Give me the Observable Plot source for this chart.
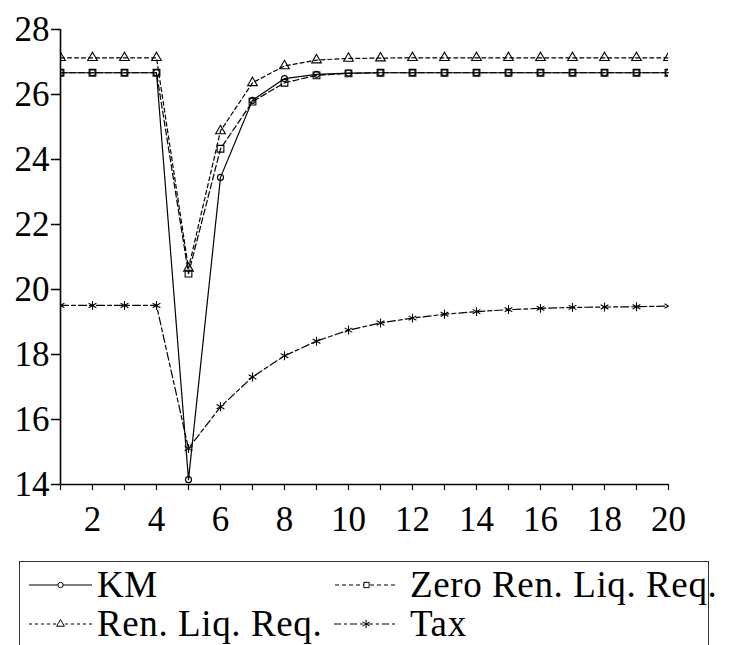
<!DOCTYPE html>
<html><head><meta charset="utf-8">
<script src="https://cdn.jsdelivr.net/npm/d3@7"></script>
<script src="https://cdn.jsdelivr.net/npm/@observablehq/plot@0.6"></script>
<style>
body{margin:0;background:#fff}
#chart{position:relative;width:730px;height:645px;overflow:hidden;background:#fff}
#chart > svg{display:block}
#legend{position:absolute;left:0;top:0;width:730px;height:645px;pointer-events:none}
#legend .box{position:absolute;left:19px;top:561px;width:690px;height:120px;border:1.4px solid #333;box-sizing:border-box}
#legend .lab{position:absolute;font-size:37px;line-height:38px;letter-spacing:0.6px;white-space:nowrap;color:#000}
#legend svg{position:absolute;overflow:visible}
</style>
</head><body><div id="chart"></div>
<script>
const periods = [1,2,3,4,5,6,7,8,9,10,11,12,13,14,15,16,17,18,19,20];
const xTickLabels = [2,4,6,8,10,12,14,16,18,20];
const yTicks = [14,16,18,20,22,24,26,28];
const seriesNames = ["KM","Zero Ren. Liq. Req.","Ren. Liq. Req.","Tax"];
const km   = [26.67,26.67,26.67,26.67,14.15,23.45,25.82,26.49,26.62,26.66,26.67,26.67,26.67,26.67,26.67,26.67,26.67,26.67,26.67,26.67];
const zero = [26.67,26.67,26.67,26.67,20.49,24.33,25.78,26.36,26.59,26.65,26.67,26.67,26.67,26.67,26.67,26.67,26.67,26.67,26.67,26.67];
const ren  = [27.13,27.13,27.13,27.13,20.65,24.88,26.36,26.88,27.06,27.11,27.12,27.13,27.13,27.13,27.13,27.13,27.13,27.13,27.13,27.13];
const tax  = [19.51,19.51,19.51,19.51,15.11,16.39,17.31,17.96,18.41,18.75,18.97,19.12,19.24,19.32,19.38,19.42,19.45,19.46,19.47,19.49];

const valuesBySeries = [km, zero, ren, tax];
const symbols = ["circle","square","triangle","asterisk"];
const radii = [3,3.8,3.6,4.2];
const dashes = [null,"6,3","4,3","8,3,4,3"];
const legendDashes = [null,"4,3","3,3","7,3,3,3"];
const SERIF = "'Liberation Serif', serif";

const marks = [];
valuesBySeries.forEach((vals, k) => {
  const rows = periods.map((p, i) => ({x: p, y: vals[i]}));
  marks.push(Plot.line(rows, {x:"x", y:"y", stroke:"black", strokeWidth:1.2, strokeDasharray: dashes[k] ?? undefined}));
});
valuesBySeries.forEach((vals, k) => {
  const rows = periods.map((p, i) => ({x: p, y: vals[i]}));
  marks.push(Plot.dot(rows, {x:"x", y:"y", symbol: symbols[k], r: radii[k], stroke:"black", fill:"none", strokeWidth:1.1, clip:true}));
});

const plot = Plot.plot({
  width: 730, height: 545,
  marginLeft: 60, marginRight: 62, marginTop: 29, marginBottom: 61,
  style: {fontFamily: SERIF, fontSize: "35px", color: "black", background: "white", overflow: "visible"},
  x: {domain: [1, 20]},
  y: {domain: [14, 28]},
  marks: [
    ...marks,
    Plot.axisY({ticks: yTicks, tickSize: 9, tickPadding: 2, label: null, strokeWidth: 1.5}),
    Plot.axisX({ticks: periods, tickSize: 6, tickPadding: 16, label: null, strokeWidth: 1.2,
      tickFormat: d => xTickLabels.includes(d) ? String(d) : ""}),
    Plot.ruleX([1], {y1: 14, y2: 28, stroke: "black", strokeWidth: 1.6}),
    Plot.ruleY([14], {x1: 1, x2: 20, stroke: "black", strokeWidth: 1.6})
  ]
});
const chart = document.getElementById("chart");
chart.appendChild(plot);

// HTML legend below the plot area
const legend = d3.select(chart).append("div").attr("id", "legend");
legend.append("div").attr("class", "box");
const slots = [
  {x0: 29, x1: 92, tx: 97, ly: 585, top: 566},
  {x0: 335, x1: 398, tx: 410, ly: 585, top: 566},
  {x0: 29, x1: 92, tx: 97, ly: 624, top: 605},
  {x0: 334, x1: 398, tx: 410, ly: 624, top: 605}
];
const symMap = {circle: d3.symbolCircle, square: d3.symbolSquare, triangle: d3.symbolTriangle, asterisk: d3.symbolAsterisk};
const legSizes = [22, 28, 26, 50];
[0, 1, 2, 3].forEach((k, j) => {
  const s = slots[j];
  const w = s.x1 - s.x0;
  const sv = legend.append("svg").attr("width", w).attr("height", 14)
    .style("left", s.x0 + "px").style("top", (s.ly - 7) + "px");
  sv.append("line").attr("x1", 0).attr("x2", w).attr("y1", 7).attr("y2", 7)
    .attr("stroke", "black").attr("stroke-width", 1.1)
    .attr("stroke-dasharray", legendDashes[k]);
  sv.append("path").attr("d", d3.symbol(symMap[symbols[k]], legSizes[k])())
    .attr("transform", `translate(${w / 2},7)`)
    .attr("fill", "white").attr("stroke", "black").attr("stroke-width", 1);
  legend.append("div").attr("class", "lab")
    .style("font-family", SERIF)
    .style("left", s.tx + "px").style("top", s.top + "px").text(seriesNames[k]);
});
</script>
</body></html>
